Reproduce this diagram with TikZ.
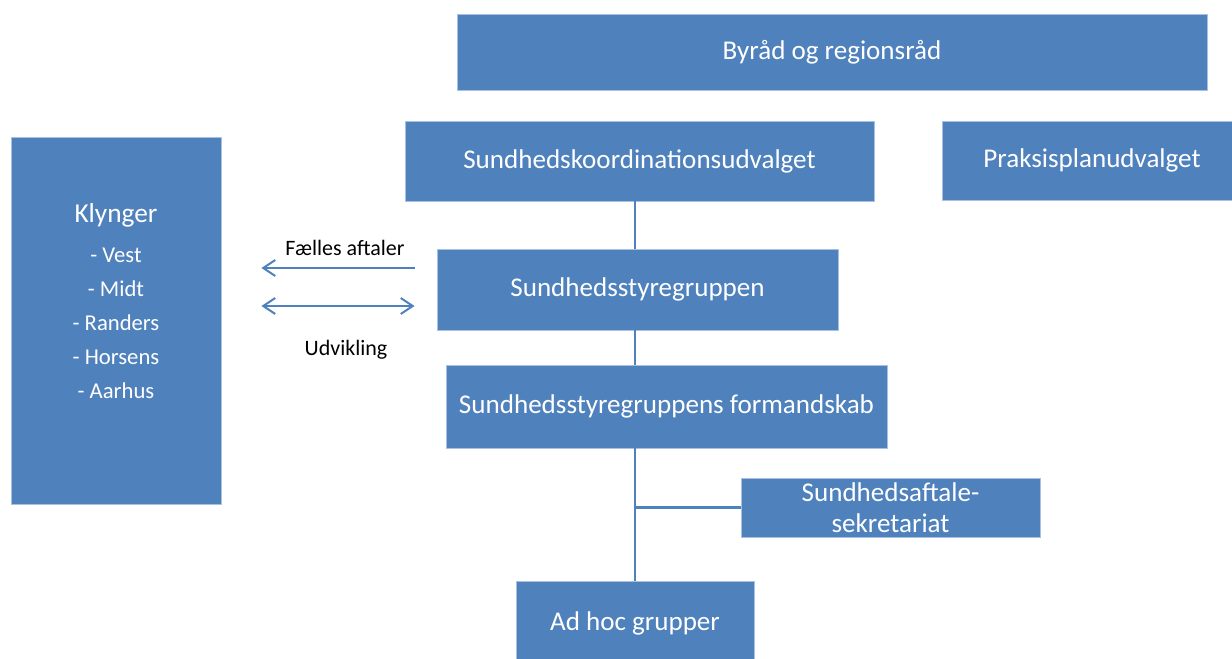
\documentclass[tikz,border=0pt]{standalone}
\usepackage{fontspec}
\setmainfont{Carlito}
\usetikzlibrary{arrows.meta}
\definecolor{boxblue}{HTML}{4F81BD}
\definecolor{boxedge}{HTML}{A9C0E0}
\definecolor{lineblue}{HTML}{4F81BD}
\tikzset{barbtip/.tip={Straight Barb[length=9pt,width=12pt,line width=1.5pt]}}
\begin{document}
\begin{tikzpicture}[x=0.75pt,y=-0.75pt,
  orgbox/.style={rectangle, fill=boxblue, draw=boxedge, line width=0.6pt, text=white,
     inner sep=0pt, align=center, font=\fontsize{20.3}{23}\selectfont},
  boxtext/.style={text=white, inner sep=0pt, align=center},
  conn/.style={draw=lineblue, line width=2.2pt},
  arr/.style={draw=lineblue, line width=1.5pt},
  lbl/.style={font=\fontsize{16.5}{19}\selectfont, text=black}]
\useasboundingbox (0,0) rectangle (1232,659);
\begin{scope}
\clip (0,0) rectangle (1232,659);
\node[orgbox, minimum width=750*0.75pt, minimum height=76*0.75pt] (byraad) at (832,52) {Byråd og regionsråd};
\node[orgbox, minimum width=469*0.75pt, minimum height=80*0.75pt] (skoord) at (639.5,161) {Sundhedskoordinationsudvalget};
\node[orgbox, minimum width=300*0.75pt, minimum height=79*0.75pt] (praksis) at (1092,160.5) {Praksisplanudvalget};
\node[orgbox, minimum width=210*0.75pt, minimum height=367*0.75pt] (klynger) at (116,320.5) {};
\node[boxtext, font=\fontsize{20.5}{24}\selectfont] (klyngerhead) at (116,215) {Klynger};
\node[boxtext, font=\fontsize{17}{25.5}\selectfont] (klyngerlist) at (116,323.5)
  {- Vest\\ - Midt\\ - Randers\\ - Horsens\\ - Aarhus};
\node[orgbox, minimum width=401*0.75pt, minimum height=81*0.75pt] (sty) at (637.5,289.5) {Sundhedsstyregruppen};
\node[orgbox, minimum width=441*0.75pt, minimum height=83*0.75pt] (form) at (666.5,406.5) {Sundhedsstyregruppens formandskab};
\node[orgbox, minimum width=299*0.75pt, minimum height=59*0.75pt] (sek) at (890.5,507.5) {Sundhedsaftale-\\sekretariat};
\node[orgbox, minimum width=238*0.75pt, minimum height=84*0.75pt] (adhoc) at (635,623) {Ad hoc grupper};
\end{scope}
\draw[conn] (adhoc.north |- skoord.south) -- (adhoc.north |- sty.north);
\draw[conn] (adhoc.north |- sty.south) -- (adhoc.north |- form.north);
\draw[conn] (adhoc.north |- form.south) -- (adhoc.north);
\draw[conn] (adhoc.north |- sek.west) -- (sek.west);
\draw[arr, -barbtip, shorten <=16.5pt, shorten >=30pt]
  (sty.west |- 0,268) -- (klynger.east |- 0,268);
\draw[arr, barbtip-barbtip, shorten <=16.5pt, shorten >=30pt]
  (sty.west |- 0,306) -- (klynger.east |- 0,306);
\node[lbl] (faelles) at (345,248) {Fælles aftaler};
\node[lbl] (udv) at (346,350) {Udvikling};
\end{tikzpicture}
\end{document}
